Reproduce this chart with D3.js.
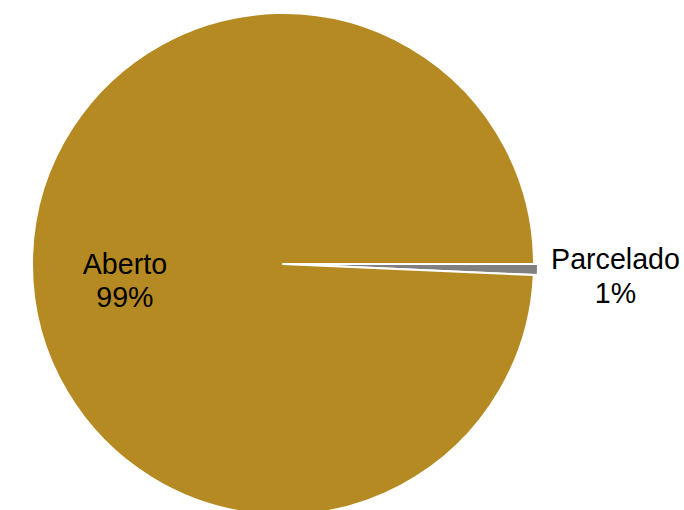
<!DOCTYPE html>
<html>
<head>
<meta charset="utf-8">
<script src="https://cdn.jsdelivr.net/npm/d3@7"></script>
<style>
  html, body { margin: 0; padding: 0; background: #fff; }
  #chart { width: 684px; height: 510px; }
</style>
</head>
<body>
<div id="chart"></div>
<script>
// data (order as in the source sheet)
const categories = ["Parcelado", "Aberto"];
const values = [0.7, 99.3];
const colors = ["#808080", "#B58A22"];

const width = 684, height = 510;
const cx = 283, cy = 264, radius = 251;
const explode = 4; // Parcelado slice pulled out a bit

const svg = d3.select("#chart").append("svg")
    .attr("width", width)
    .attr("height", height);

const g = svg.append("g").attr("transform", `translate(${cx},${cy})`);

const data = categories.map((c, i) => ({ name: c, value: values[i], color: colors[i] }));
const total = d3.sum(values);

// first slice starts at 3 o'clock, clockwise
const pie = d3.pie().sort(null).value(d => d.value)
    .startAngle(Math.PI / 2).endAngle(Math.PI / 2 + 2 * Math.PI);
const arcs = pie(data);

const arc = d3.arc().innerRadius(0).outerRadius(radius);

const offset = d => {
    if (d.data.name !== "Parcelado") return [0, 0];
    const a = (d.startAngle + d.endAngle) / 2;
    return [Math.sin(a) * explode, -Math.cos(a) * explode];
};

g.selectAll("path.slice")
    .data(arcs)
    .join("path")
    .attr("class", "slice")
    .attr("d", arc)
    .attr("transform", d => `translate(${offset(d)})`)
    .attr("fill", d => d.data.color)
    .attr("stroke", "#fff")
    .attr("stroke-width", 2)
    .attr("stroke-linejoin", "round");

// labels: Aberto inside, Parcelado outside
const labelPos = { "Aberto": { r: 0.63, dy: 13 }, "Parcelado": { r: 1.325, dy: -2 } };

g.selectAll("text.label")
    .data(arcs)
    .join("text")
    .attr("class", "label")
    .attr("text-anchor", "middle")
    .attr("font-family", "Arial, 'Liberation Sans', sans-serif")
    .attr("font-size", 28.6)
    .attr("fill", "#000")
    .each(function (d) {
        const p = labelPos[d.data.name];
        const a = (d.startAngle + d.endAngle) / 2;
        const x = Math.sin(a) * radius * p.r;
        const y = -Math.cos(a) * radius * p.r + p.dy;
        const t = d3.select(this);
        t.append("tspan").attr("x", x).attr("y", y).text(d.data.name);
        t.append("tspan").attr("x", x).attr("y", y + 33.4)
            .text(Math.round(d.data.value / total * 100) + "%");
    });
</script>
</body>
</html>
